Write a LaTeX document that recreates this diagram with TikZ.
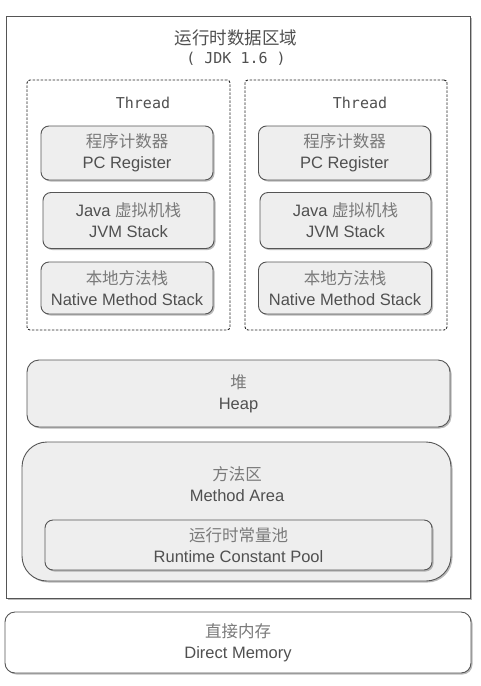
\documentclass[tikz,border=0pt]{standalone}
\usepackage{fontspec}
\setmainfont{Liberation Sans}
\setmonofont{DejaVu Sans Mono}
\newfontfamily\cjk{Noto Sans CJK SC}
\usetikzlibrary{shadows,positioning}
\definecolor{boxline}{HTML}{555555}
\definecolor{boxfill}{HTML}{EEEEEE}
\definecolor{boxtext}{HTML}{505050}
\definecolor{cjktext}{HTML}{7A7A7A}
\newcommand{\zh}[1]{{\cjk\color{cjktext}#1}}

\begin{document}
\begin{tikzpicture}[x=1pt, y=-1pt,
    area/.style={draw=boxline, line width=0.9pt, fill=boxfill, rounded corners=8pt, align=center,
        font=\fontsize{16.5}{21}\selectfont, text=boxtext,
        drop shadow={shadow xshift=1.5pt, shadow yshift=-1.5pt, fill=black!45, opacity=0.6}},
    thread/.style={draw=black!85, dash pattern=on 2.5pt off 1.5pt, line width=0.9pt, rounded corners=3pt},
    monotext/.style={font=\ttfamily\fontsize{15}{18}\selectfont, text=boxtext}
]
    \useasboundingbox (0,0) rectangle (481,686);

    % runtime data area
    \node[draw=boxline, line width=0.9pt, fill=white, minimum width=464pt, minimum height=582pt,
        drop shadow={shadow xshift=1.5pt, shadow yshift=-1.5pt, fill=black!45, opacity=0.6}]
        (rda) at (238,307) {};
    \node[align=center, text=boxtext, font=\fontsize{17.5}{19}\selectfont] (title) at (236,48)
        {{\cjk 运行时数据区域}\\{\ttfamily\fontsize{15}{18}\selectfont ( JDK 1.6 )}};

    % threads
    \node[thread, minimum width=203pt, minimum height=250pt] (t1) at (128.5,205) {};
    \node[thread, minimum width=202pt, minimum height=250pt] (t2) at (346,205) {};
    \node[monotext] (t1label) at (143,103) {Thread};
    \node[monotext] (t2label) at (360,103) {Thread};

    \node[area, minimum width=172pt, minimum height=54pt] (pc1) at (127,153) {\zh{程序计数器}\\PC Register};
    \node[area, minimum width=171pt, minimum height=56pt] (jvm1) at (128.5,220.5) {Java \zh{虚拟机栈}\\JVM Stack};
    \node[area, minimum width=172pt, minimum height=52pt] (nms1) at (127,288) {\zh{本地方法栈}\\Native Method Stack};

    \node[area, minimum width=172pt, minimum height=54pt] (pc2) at (344.5,153) {\zh{程序计数器}\\PC Register};
    \node[area, minimum width=171pt, minimum height=56pt] (jvm2) at (345.5,220.5) {Java \zh{虚拟机栈}\\JVM Stack};
    \node[area, minimum width=173pt, minimum height=52pt] (nms2) at (345,288) {\zh{本地方法栈}\\Native Method Stack};

    % shared areas
    \node[area, rounded corners=12pt, minimum width=423pt, minimum height=67pt] (heap) at (238.5,393.5) {\zh{堆}\\Heap};
    \node[area, rounded corners=25pt, minimum width=429pt, minimum height=139pt] (ma) at (236.5,511.5) {};
    \node[align=center, text=boxtext, font=\fontsize{16.5}{21}\selectfont] (matext) at (237,484)
        {\zh{方法区}\\Method Area};
    \node[area, minimum width=387pt, minimum height=50pt] (rcp) at (238.5,545) {\zh{运行时常量池}\\Runtime Constant Pool};

    % direct memory
    \node[area, fill=white, rounded corners=10pt, minimum width=466pt, minimum height=61pt] (dm) at (238,642.5) {\zh{直接内存}\\Direct Memory};
\end{tikzpicture}
\end{document}
